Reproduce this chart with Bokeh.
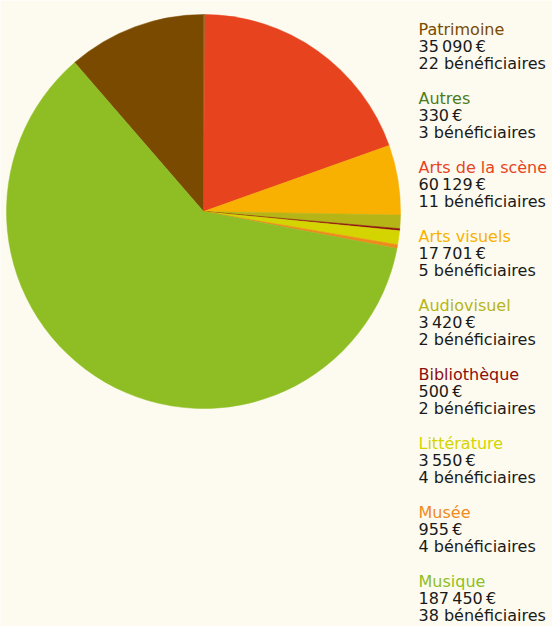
import math
from bokeh.plotting import figure
from bokeh.models import Range1d, ColumnDataSource
from bokeh.core.properties import value
from bokeh.embed import file_html
from bokeh.resources import INLINE

# ---- data (legend order) ----
categories = ["Patrimoine", "Autres", "Arts de la scène", "Arts visuels", "Audiovisuel",
              "Bibliothèque", "Littérature", "Musée", "Musique"]
amounts = [35090, 330, 60129, 17701, 3420, 500, 3550, 955, 187450]
beneficiaries = [22, 3, 11, 5, 2, 2, 4, 4, 38]
amount_labels = ["35\u202f090\u202f€", "330\u202f€", "60\u202f129\u202f€", "17\u202f701\u202f€",
                 "3\u202f420\u202f€", "500\u202f€", "3\u202f550\u202f€", "955\u202f€",
                 "187\u202f450\u202f€"]
colors = ["#7a4a00", "#4c7c1e", "#e8431f", "#f8b100", "#b5b517", "#8c0e0e",
          "#d4d400", "#ef8a1c", "#8fbe24"]

W, H = 552, 626
BG = "#fdfbef"

p = figure(width=W, height=H, output_backend="svg", toolbar_location=None,
           x_range=Range1d(0, W), y_range=Range1d(0, H),
           min_border=0, background_fill_color=BG, border_fill_color=BG)
p.axis.visible = False
p.grid.visible = False
p.outline_line_color = None

# ---- pie ----
total = float(sum(amounts))
offset = math.pi / 2 + 2 * math.pi * amounts[0] / total
starts, ends = [], []
cum = 0.0
for a in amounts:
    starts.append(offset - 2 * math.pi * cum / total)
    cum += a
    ends.append(offset - 2 * math.pi * cum / total)

cx, cy, r = 203, H - 211, 197
src = ColumnDataSource(dict(start=starts, end=ends, color=colors))
p.wedge(x=cx, y=cy, radius=r, radius_units="screen", start_angle="start", end_angle="end",
        direction="clock", fill_color="color", line_color="color", line_width=0.5,
        source=src)

# ---- legend texts ----
lx = 418
b0 = 28.5
step = 69.0
lh = 17.0
tx, ty, tt, tc = [], [], [], []
for i, cat in enumerate(categories):
    b = b0 + i * step
    tx += [lx, lx, lx]
    ty += [H - b, H - (b + lh), H - (b + 2 * lh)]
    tt += [cat, amount_labels[i], f"{beneficiaries[i]} bénéficiaires"]
    tc += [colors[i], "#1a1a1a", "#1a1a1a"]

tsrc = ColumnDataSource(dict(x=tx, y=ty, text=tt, color=tc))
p.text(x="x", y="y", text="text", text_color="color", source=tsrc,
       text_font=value("DejaVu Sans"), text_font_size="16px",
       text_baseline="alphabetic", text_align="left")

open("out.html", "w").write(file_html(p, INLINE))
